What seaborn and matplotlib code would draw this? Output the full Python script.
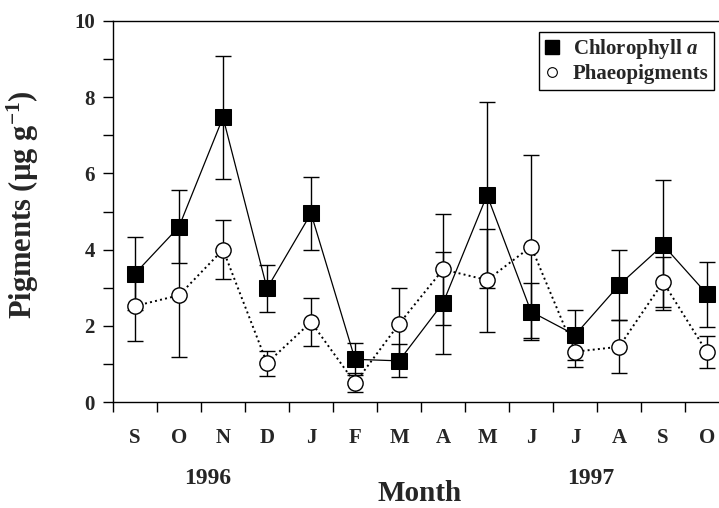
import matplotlib
matplotlib.use("Agg")
import matplotlib.pyplot as plt
from matplotlib.lines import Line2D
import seaborn as sns
import numpy as np

months = ["S", "O", "N", "D", "J", "F", "M", "A", "M", "J", "J", "A", "S", "O"]
chl = [3.37, 4.60, 7.47, 2.98, 4.95, 1.12, 1.08, 2.60, 5.43, 2.37, 1.76, 3.07, 4.12, 2.83]
chl_err = [0.96, 0.96, 1.62, 0.62, 0.95, 0.42, 0.43, 1.35, 2.45, 0.75, 0.65, 0.93, 1.70, 0.85]
phaeo = [2.52, 2.80, 4.00, 1.02, 2.10, 0.50, 2.05, 3.48, 3.20, 4.08, 1.32, 1.45, 3.15, 1.30]
phaeo_err = [0.92, 1.62, 0.77, 0.33, 0.63, 0.25, 0.95, 1.45, 1.35, 2.40, 0.40, 0.70, 0.65, 0.42]
years = ["1996", "1997"]

sns.set_theme(style="ticks")
plt.rcParams["font.family"] = ["Liberation Serif", "DejaVu Serif"]
plt.rcParams["font.weight"] = "bold"
plt.rcParams["mathtext.fontset"] = "custom"
plt.rcParams["mathtext.rm"] = "Liberation Serif:bold"
plt.rcParams["mathtext.bf"] = "Liberation Serif:bold"
plt.rcParams["mathtext.it"] = "Liberation Serif:bold:italic"

fig = plt.figure(figsize=(7.19, 5.08), dpi=100)
ax = fig.add_axes([113 / 719, 1 - 402 / 508, (719 - 113) / 719, (402 - 21) / 508])

x = np.arange(len(months))

ax.errorbar(x, chl, yerr=chl_err, fmt="none", ecolor="black", elinewidth=1.0,
            capsize=5.5, capthick=1.0, zorder=2)
ax.errorbar(x, phaeo, yerr=phaeo_err, fmt="none", ecolor="black", elinewidth=1.0,
            capsize=5.5, capthick=1.0, zorder=2)

sns.lineplot(x=x, y=phaeo, ax=ax, color="black", linestyle=":", linewidth=1.4,
             marker="o", markersize=11, markerfacecolor="white",
             markeredgecolor="black", markeredgewidth=1.0, zorder=3)
sns.lineplot(x=x, y=chl, ax=ax, color="black", linestyle="-", linewidth=0.9,
             marker="s", markersize=11, markerfacecolor="black",
             markeredgecolor="black", zorder=4)

ax.set_xlim(-0.5, 13.27)
ax.set_ylim(0, 10)

ax.set_xticks(np.arange(len(months)) - 0.5)
ax.set_xticklabels([])
ax.set_xticks(x, minor=True)
ax.set_xticklabels(months, minor=True, fontsize=15, fontweight="bold")
ax.tick_params(axis="x", which="major", direction="out", length=7, width=1, color="black")
ax.tick_params(axis="x", which="minor", length=0, pad=19)

ax.set_yticks(np.arange(0, 11, 1))
ax.set_yticklabels([str(v) if v % 2 == 0 else "" for v in range(0, 11)],
                   fontsize=15, fontweight="bold")
ax.tick_params(axis="y", which="major", direction="out", length=7, width=1, color="black", pad=6)

for side in ["left", "bottom", "top"]:
    ax.spines[side].set_color("black")
    ax.spines[side].set_linewidth(1.0)
ax.spines["right"].set_visible(False)

ax.set_ylabel("Pigments (µg g$^{-1}$)", fontsize=22, fontweight="bold")
ax.yaxis.set_label_coords(-0.119, 0.517)
ax.set_xlabel("Month", fontsize=21, fontweight="bold")
ax.xaxis.set_label_coords((420 - 113) / 606, -0.205)

fig.text(208 / 719, 1 - 479 / 508, years[0], fontsize=17, fontweight="bold",
         ha="center", va="center")
fig.text(591 / 719, 1 - 479 / 508, years[1], fontsize=17, fontweight="bold",
         ha="center", va="center")

handles = [
    Line2D([], [], linestyle="none", marker="s", markersize=10,
           markerfacecolor="black", markeredgecolor="black"),
    Line2D([], [], linestyle="none", marker="o", markersize=7,
           markerfacecolor="white", markeredgecolor="black", markeredgewidth=0.8),
]
leg = ax.legend(handles, ["Chlorophyll $\\mathit{a}$", "Phaeopigments"],
                loc="upper right", bbox_to_anchor=(714 / 719, 1 - 32 / 508),
                bbox_transform=fig.transFigure, borderaxespad=0,
                frameon=True, fancybox=False, edgecolor="black", framealpha=1,
                prop={"size": 15, "weight": "bold"}, handlelength=0.8,
                handletextpad=0.6, borderpad=0.25, labelspacing=0.15)
leg.get_frame().set_linewidth(1.0)

fig.savefig("out.png", dpi=100)
